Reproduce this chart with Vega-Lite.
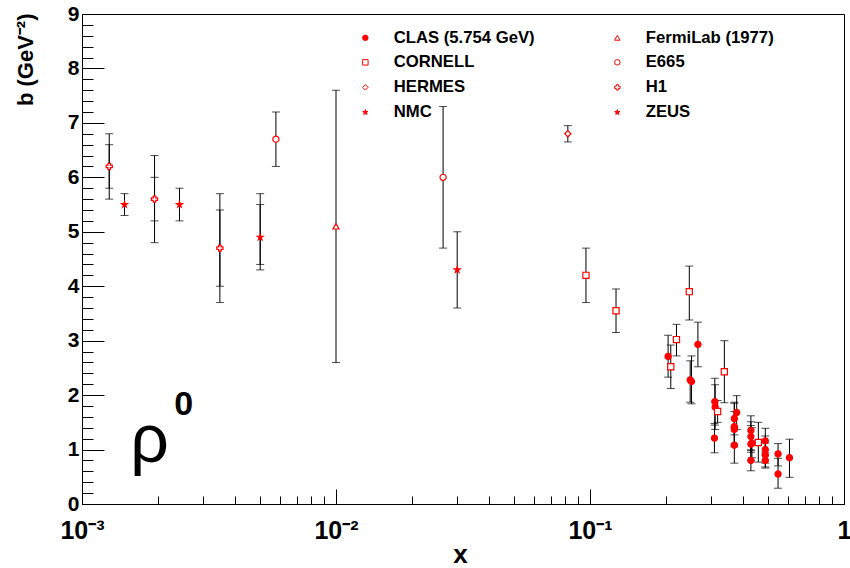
{
  "$schema": "https://vega.github.io/schema/vega-lite/v6.json",
  "width": 762,
  "height": 490,
  "autosize": {"type": "none"},
  "padding": {"left": 82, "top": 14, "right": 6, "bottom": 64},
  "background": "white",
  "config": {
    "view": {"stroke": "black", "strokeWidth": 1},
    "font": "Liberation Sans",
    "legend": {
      "orient": "none", "legendX": 275, "legendY": 15, "columns": 2, "columnPadding": 74, "rowPadding": 7,
      "labelFont": "Liberation Sans", "labelFontWeight": "bold", "labelFontSize": 16.7, "labelColor": "black",
      "labelOffset": 20, "symbolSize": 30, "symbolStrokeWidth": 1, "padding": 0, "title": null
    }
  },
  "datasets": {
    "points": [
      {"series": "CLAS (5.754 GeV)", "x": 0.203, "b": 2.71},
      {"series": "CLAS (5.754 GeV)", "x": 0.248, "b": 2.28},
      {"series": "CLAS (5.754 GeV)", "x": 0.251, "b": 2.25},
      {"series": "CLAS (5.754 GeV)", "x": 0.266, "b": 2.93},
      {"series": "CLAS (5.754 GeV)", "x": 0.310, "b": 1.88},
      {"series": "CLAS (5.754 GeV)", "x": 0.311, "b": 1.78},
      {"series": "CLAS (5.754 GeV)", "x": 0.309, "b": 1.21},
      {"series": "CLAS (5.754 GeV)", "x": 0.378, "b": 1.68},
      {"series": "CLAS (5.754 GeV)", "x": 0.370, "b": 1.57},
      {"series": "CLAS (5.754 GeV)", "x": 0.370, "b": 1.42},
      {"series": "CLAS (5.754 GeV)", "x": 0.370, "b": 1.37},
      {"series": "CLAS (5.754 GeV)", "x": 0.370, "b": 1.08},
      {"series": "CLAS (5.754 GeV)", "x": 0.430, "b": 1.35},
      {"series": "CLAS (5.754 GeV)", "x": 0.430, "b": 1.24},
      {"series": "CLAS (5.754 GeV)", "x": 0.430, "b": 1.10},
      {"series": "CLAS (5.754 GeV)", "x": 0.434, "b": 1.12},
      {"series": "CLAS (5.754 GeV)", "x": 0.430, "b": 0.80},
      {"series": "CLAS (5.754 GeV)", "x": 0.490, "b": 1.16},
      {"series": "CLAS (5.754 GeV)", "x": 0.490, "b": 1.00},
      {"series": "CLAS (5.754 GeV)", "x": 0.490, "b": 0.90},
      {"series": "CLAS (5.754 GeV)", "x": 0.490, "b": 0.80},
      {"series": "CLAS (5.754 GeV)", "x": 0.550, "b": 0.92},
      {"series": "CLAS (5.754 GeV)", "x": 0.550, "b": 0.55},
      {"series": "CLAS (5.754 GeV)", "x": 0.610, "b": 0.85},
      {"series": "CORNELL", "x": 0.0964, "b": 4.2},
      {"series": "CORNELL", "x": 0.1266, "b": 3.55},
      {"series": "CORNELL", "x": 0.208, "b": 2.52},
      {"series": "CORNELL", "x": 0.219, "b": 3.02},
      {"series": "CORNELL", "x": 0.246, "b": 3.9},
      {"series": "CORNELL", "x": 0.318, "b": 1.7},
      {"series": "CORNELL", "x": 0.338, "b": 2.43},
      {"series": "CORNELL", "x": 0.46, "b": 1.13},
      {"series": "HERMES", "x": 0.0818, "b": 6.8},
      {"series": "NMC", "x": 0.03, "b": 4.3},
      {"series": "FermiLab (1977)", "x": 0.01, "b": 5.1},
      {"series": "E665", "x": 0.0058, "b": 6.7},
      {"series": "E665", "x": 0.0264, "b": 6.0},
      {"series": "H1", "x": 0.00128, "b": 6.2},
      {"series": "H1", "x": 0.00193, "b": 5.6},
      {"series": "H1", "x": 0.00349, "b": 4.7},
      {"series": "ZEUS", "x": 0.00147, "b": 5.5},
      {"series": "ZEUS", "x": 0.00242, "b": 5.5},
      {"series": "ZEUS", "x": 0.00503, "b": 4.9}
    ],
    "errors": [
      {"x": 0.00128, "lo": 5.6, "hi": 6.8},
      {"x": 0.00128, "lo": 5.8, "hi": 6.6},
      {"x": 0.00147, "lo": 5.3, "hi": 5.7},
      {"x": 0.00193, "lo": 4.8, "hi": 6.4},
      {"x": 0.00193, "lo": 5.2, "hi": 6.0},
      {"x": 0.00242, "lo": 5.2, "hi": 5.8},
      {"x": 0.00349, "lo": 3.7, "hi": 5.7},
      {"x": 0.00349, "lo": 4.0, "hi": 5.4},
      {"x": 0.00503, "lo": 4.3, "hi": 5.7},
      {"x": 0.00503, "lo": 4.4, "hi": 5.5},
      {"x": 0.0058, "lo": 6.2, "hi": 7.2},
      {"x": 0.01, "lo": 2.6, "hi": 7.6},
      {"x": 0.0264, "lo": 4.7, "hi": 7.3},
      {"x": 0.03, "lo": 3.6, "hi": 5.0},
      {"x": 0.0818, "lo": 6.65, "hi": 6.95},
      {"x": 0.0964, "lo": 3.7, "hi": 4.7},
      {"x": 0.1266, "lo": 3.15, "hi": 3.95},
      {"x": 0.208, "lo": 2.12, "hi": 2.92},
      {"x": 0.219, "lo": 2.72, "hi": 3.30},
      {"x": 0.246, "lo": 3.38, "hi": 4.37},
      {"x": 0.318, "lo": 1.5, "hi": 1.9},
      {"x": 0.338, "lo": 1.86, "hi": 3.0},
      {"x": 0.46, "lo": 0.77, "hi": 1.5},
      {"x": 0.203, "lo": 2.33, "hi": 3.10},
      {"x": 0.248, "lo": 1.87, "hi": 2.63},
      {"x": 0.251, "lo": 1.84, "hi": 2.72},
      {"x": 0.266, "lo": 2.52, "hi": 3.34},
      {"x": 0.310, "lo": 1.45, "hi": 2.31},
      {"x": 0.311, "lo": 1.37, "hi": 2.19},
      {"x": 0.309, "lo": 0.94, "hi": 1.48},
      {"x": 0.378, "lo": 1.37, "hi": 1.99},
      {"x": 0.370, "lo": 1.27, "hi": 1.87},
      {"x": 0.370, "lo": 1.10, "hi": 1.85},
      {"x": 0.370, "lo": 1.05, "hi": 1.70},
      {"x": 0.370, "lo": 0.75, "hi": 1.41},
      {"x": 0.430, "lo": 0.99, "hi": 1.62},
      {"x": 0.430, "lo": 0.95, "hi": 1.51},
      {"x": 0.430, "lo": 0.80, "hi": 1.44},
      {"x": 0.434, "lo": 0.85, "hi": 1.40},
      {"x": 0.430, "lo": 0.61, "hi": 0.99},
      {"x": 0.490, "lo": 0.90, "hi": 1.39},
      {"x": 0.490, "lo": 0.75, "hi": 1.25},
      {"x": 0.490, "lo": 0.68, "hi": 1.12},
      {"x": 0.490, "lo": 0.66, "hi": 0.95},
      {"x": 0.550, "lo": 0.70, "hi": 1.11},
      {"x": 0.550, "lo": 0.29, "hi": 0.84},
      {"x": 0.610, "lo": 0.49, "hi": 1.19}
    ],
    "rho": [{"t": "ρ", "x": 0.00155, "y": 0.77}],
    "rhoSup": [{"t": "0", "x": 0.00231, "y": 1.63}]
  },
  "layer": [
    {
      "data": {"name": "errors"},
      "mark": {"type": "rule", "color": "black", "strokeWidth": 1},
      "encoding": {
        "x": {
          "field": "x", "type": "quantitative",
          "scale": {"type": "log", "domain": [0.001, 1], "nice": false},
          "axis": {
            "title": "x", "titleFont": "Liberation Sans", "titleFontWeight": "bold", "titleFontSize": 26,
            "titleX": 378, "titleY": 58, "titleBaseline": "alphabetic", "titleAlign": "center",
            "tickCount": 200,
            "values": [0.001,0.002,0.003,0.004,0.005,0.006,0.007,0.008,0.009,0.01,0.02,0.03,0.04,0.05,0.06,0.07,0.08,0.09,0.1,0.2,0.3,0.4,0.5,0.6,0.7,0.8,0.9,1],
            "labelExpr": "datum.value == 0.001 ? '10⁻³' : datum.value == 0.01 ? '10⁻²' : datum.value == 0.1 ? '10⁻¹' : datum.value == 1 ? '1' : ''",
            "labelFont": "Liberation Sans", "labelFontWeight": "bold", "labelFontSize": 25, "labelColor": "black",
            "labelOverlap": false, "labelFlush": false, "labelBound": false, "labelBaseline": "top",
            "labelPadding": 29,
            "tickColor": "black", "tickWidth": 1,
            "tickSize": {"condition": {"test": "datum.value == 0.001 || datum.value == 0.01 || datum.value == 0.1 || datum.value == 1", "value": -15}, "value": -8},
            "domainColor": "black", "domainWidth": 1, "grid": false
          }
        },
        "y": {
          "field": "lo", "type": "quantitative",
          "scale": {"domain": [0, 9], "nice": false},
          "axis": {
            "title": "b (GeV⁻²)", "titleFont": "Liberation Sans", "titleFontWeight": "bold", "titleFontSize": 22,
            "titleAngle": -90, "titleX": -57, "titleY": -1, "titleAlign": "right", "titleBaseline": "middle",
            "tickCount": 200,
            "values": [0,0.2,0.4,0.6,0.8,1,1.2,1.4,1.6,1.8,2,2.2,2.4,2.6,2.8,3,3.2,3.4,3.6,3.8,4,4.2,4.4,4.6,4.8,5,5.2,5.4,5.6,5.8,6,6.2,6.4,6.6,6.8,7,7.2,7.4,7.6,7.8,8,8.2,8.4,8.6,8.8,9],
            "labelExpr": "datum.value % 1 == 0 ? format(datum.value, 'd') : ''",
            "labelFont": "Liberation Sans", "labelFontWeight": "bold", "labelFontSize": 21, "labelColor": "black",
            "labelOverlap": false, "labelFlush": false, "labelBound": false, "labelBaseline": "middle",
            "labelPadding": 25,
            "tickColor": "black", "tickWidth": 1,
            "tickSize": {"condition": {"test": "datum.value % 1 == 0", "value": -22}, "value": -11},
            "domainColor": "black", "domainWidth": 1, "grid": false
          }
        },
        "y2": {"field": "hi"}
      }
    },
    {
      "data": {"name": "errors"},
      "mark": {"type": "tick", "orient": "horizontal", "color": "black", "size": 8, "thickness": 1},
      "encoding": {
        "x": {"field": "x", "type": "quantitative"},
        "y": {"field": "lo", "type": "quantitative"}
      }
    },
    {
      "data": {"name": "errors"},
      "mark": {"type": "tick", "orient": "horizontal", "color": "black", "size": 8, "thickness": 1},
      "encoding": {
        "x": {"field": "x", "type": "quantitative"},
        "y": {"field": "hi", "type": "quantitative"}
      }
    },
    {
      "data": {"name": "points"},
      "mark": {"type": "point", "stroke": "red", "strokeWidth": 1.2, "size": 38, "opacity": 1},
      "encoding": {
        "x": {"field": "x", "type": "quantitative"},
        "y": {"field": "b", "type": "quantitative"},
        "shape": {
          "field": "series", "type": "nominal",
          "scale": {
            "domain": ["CLAS (5.754 GeV)", "CORNELL", "HERMES", "NMC", "FermiLab (1977)", "E665", "H1", "ZEUS"],
            "range": ["circle", "square", "diamond",
              "M0,-1L0.2245,-0.309L0.951,-0.309L0.363,0.118L0.588,0.809L0,0.382L-0.588,0.809L-0.363,0.118L-0.951,-0.309L-0.2245,-0.309Z",
              "triangle-up", "circle", "cross",
              "M0,-1L0.2245,-0.309L0.951,-0.309L0.363,0.118L0.588,0.809L0,0.382L-0.588,0.809L-0.363,0.118L-0.951,-0.309L-0.2245,-0.309Z"]
          },
          "legend": {"title": null}
        },
        "fill": {
          "field": "series", "type": "nominal",
          "scale": {
            "domain": ["CLAS (5.754 GeV)", "CORNELL", "HERMES", "NMC", "FermiLab (1977)", "E665", "H1", "ZEUS"],
            "range": ["red", "white", "white", "red", "white", "white", "white", "red"]
          },
          "legend": {"title": null}
        }
      }
    },
    {
      "data": {"name": "rho"},
      "mark": {"type": "text", "font": "Liberation Sans", "fontSize": 68, "align": "left", "baseline": "alphabetic", "color": "black"},
      "encoding": {
        "x": {"field": "x", "type": "quantitative"},
        "y": {"field": "y", "type": "quantitative"},
        "text": {"field": "t"}
      }
    },
    {
      "data": {"name": "rhoSup"},
      "mark": {"type": "text", "font": "Liberation Sans", "fontWeight": "bold", "fontSize": 34, "align": "left", "baseline": "alphabetic", "color": "black"},
      "encoding": {
        "x": {"field": "x", "type": "quantitative"},
        "y": {"field": "y", "type": "quantitative"},
        "text": {"field": "t"}
      }
    }
  ]
}
